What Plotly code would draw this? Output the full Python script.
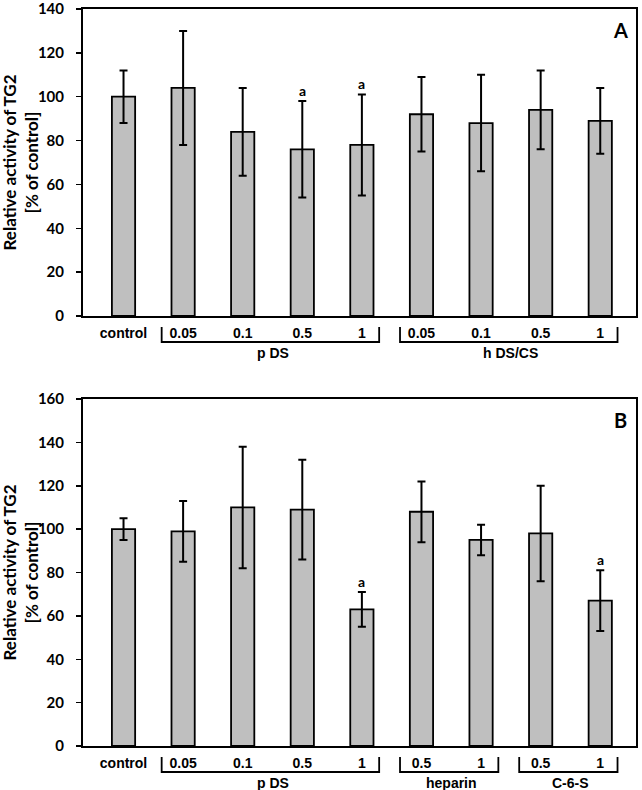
import plotly.graph_objects as go

# ---------------- data ----------------
a_labels = ["control", "0.05", "0.1", "0.5", "1", "0.05", "0.1", "0.5", "1"]
a_values = [100, 104, 84, 76, 78, 92, 88, 94, 89]
a_errors = [12, 26, 20, 22, 23, 17, 22, 18, 15]
a_sig = ["", "", "", "a", "a", "", "", "", ""]
a_groups = [("p DS", 1, 4), ("h DS/CS", 5, 8)]

b_labels = ["control", "0.05", "0.1", "0.5", "1", "0.5", "1", "0.5", "1"]
b_values = [100, 99, 110, 109, 63, 108, 95, 98, 67]
b_errors = [5, 14, 28, 23, 8, 14, 7, 22, 14]
b_sig = ["", "", "", "", "a", "", "", "", "a"]
b_groups = [("p DS", 1, 4), ("heparin", 5, 6), ("C-6-S", 7, 8)]

y_title = "Relative activity of TG2<br>[% of control]"

# ---------------- layout constants ----------------
W, H = 642, 790
XR = [-0.68, 8.60]
BAR_FILL = "#bfbfbf"
TICK_FONT = dict(family="Lato, Open Sans, sans-serif", size=15, color="black", weight="bold")
CAT_FONT = dict(family="Liberation Sans, Arial, sans-serif", size=14, color="black", weight="bold")

panels = [
    dict(lab=a_labels, val=a_values, err=a_errors, sig=a_sig, groups=a_groups,
         ytop=9, ybot=316, ymax=140, name="A", xa="x", ya="y"),
    dict(lab=b_labels, val=b_values, err=b_errors, sig=b_sig, groups=b_groups,
         ytop=399, ybot=746, ymax=160, name="B", xa="x2", ya="y2"),
]

fig = go.Figure()
x0px, x1px = 83, 636
shapes, annos = [], []

for i, p in enumerate(panels):
    idx = list(range(len(p["lab"])))
    fig.add_trace(go.Bar(
        x=idx, y=p["val"], width=0.39,
        marker=dict(color=BAR_FILL, line=dict(color="black", width=1.8)),
        error_y=dict(type="data", array=p["err"], visible=True,
                     color="black", thickness=2, width=4),
        xaxis=p["xa"], yaxis=p["ya"], showlegend=False, hoverinfo="skip",
    ))
    suffix = "" if i == 0 else "2"
    dom_y = [1 - p["ybot"] / H, 1 - p["ytop"] / H]
    plot_h = p["ybot"] - p["ytop"]
    fig.update_layout(**{
        "xaxis" + suffix: dict(
            domain=[x0px / W, x1px / W], range=XR, anchor="y" + suffix,
            tickmode="array", tickvals=idx, ticktext=p["lab"],
            ticks="", showline=True, linecolor="black", linewidth=2,
            mirror=True, showgrid=False, zeroline=False, automargin=False,
            tickfont=CAT_FONT, ticklabelstandoff=3, fixedrange=True,
            ticklabeloverflow="allow",
        ),
        "yaxis" + suffix: dict(
            domain=dom_y, range=[0, p["ymax"]], anchor="x" + suffix,
            dtick=20, ticks="outside", ticklen=5, tickwidth=1.5, tickcolor="black",
            showline=True, linecolor="black", linewidth=2, mirror=True,
            showgrid=False, zeroline=False, tickfont=TICK_FONT, automargin=False,
            ticklabelstandoff=9, fixedrange=True, ticklabeloverflow="allow",
        ),
    })
    xd = p["xa"] + " domain"
    yd = p["ya"] + " domain"

    def fx(v):
        return (v - XR[0]) / (XR[1] - XR[0])

    top_off = -11 / plot_h
    bot_off = -26 / plot_h
    for gname, g0, g1 in p["groups"]:
        xl, xr = fx(g0 - 0.36), fx(g1 + 0.29)
        path = f"M {xl},{top_off} L {xl},{bot_off} L {xr},{bot_off} L {xr},{top_off}"
        shapes.append(dict(type="path", path=path, xref=xd, yref=yd,
                           line=dict(color="black", width=1.8)))
        annos.append(dict(text=gname, x=(g0 + g1) / 2, xref=p["xa"],
                          y=-37 / plot_h, yref=yd, showarrow=False,
                          xanchor="center", yanchor="middle", font=CAT_FONT))
    for j, s in enumerate(p["sig"]):
        if s:
            annos.append(dict(text=s, x=j, xref=p["xa"], y=p["val"][j] + p["err"][j],
                              yref=p["ya"], yshift=11, showarrow=False,
                              xanchor="center", yanchor="middle",
                              font=dict(family="Lato, sans-serif", size=14,
                                        color="black", weight="bold")))
    # panel letter
    annos.append(dict(text=p["name"], x=620 / W, xref="paper",
                      y=1 - (p["ytop"] + 21) / H, yref="paper", showarrow=False,
                      xanchor="center", yanchor="middle",
                      font=dict(family="Lato, sans-serif", size=20,
                                color="black", weight="bold")))
    # y-axis title
    annos.append(dict(text=y_title, x=20 / W, xref="paper",
                      y=1 - (p["ytop"] + p["ybot"]) / 2 / H, yref="paper",
                      showarrow=False, textangle=-90, xanchor="center",
                      yanchor="middle",
                      font=dict(family="Lato, sans-serif", size=17,
                                color="black", weight="bold")))

fig.update_layout(
    width=W, height=H, margin=dict(l=0, r=0, t=0, b=0),
    paper_bgcolor="white", plot_bgcolor="white",
    shapes=shapes, annotations=annos, bargap=0.0,
)

fig.write_html(
    "out.html",
    config={"displayModeBar": False, "staticPlot": True},
    post_script="document.body.style.margin='0px';document.body.style.overflow='hidden';",
)
